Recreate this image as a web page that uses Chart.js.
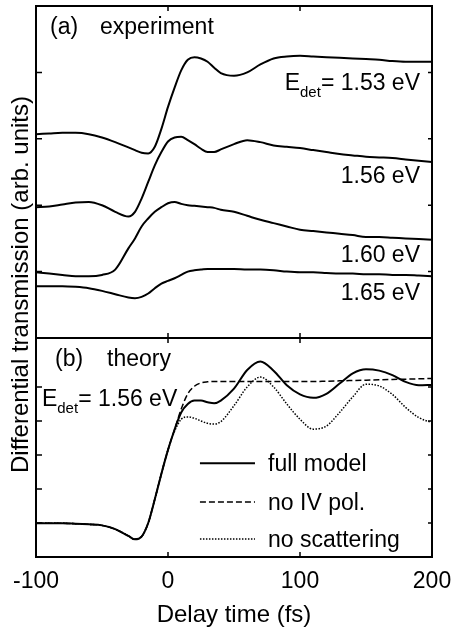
<!DOCTYPE html>
<html lang="en">
<head>
<meta charset="UTF-8">
<title>Differential transmission</title>
<script src="https://cdn.jsdelivr.net/npm/chart.js"></script>
<style>
  html, body { margin: 0; padding: 0; background: #fff; }
</style>
</head>
<body>
<canvas id="dtChart" width="453" height="630"></canvas>
<script>
// delay times (fs), shared by every curve
const delay = [-100, -90, -80, -70, -60, -50, -40, -30,
  -25, -20, -15, -10, -5, 0, 5, 10, 15, 20, 25, 30, 35, 40,
  50, 60, 70, 80, 90, 100, 110, 120, 130, 140, 150, 160, 170, 180, 190, 200];

// (a) experiment (arb. units, panel axis 0..5)
const exp153 = [3.07, 3.08, 3.09, 3.09, 3.07, 3.02, 2.95, 2.87,
  2.83, 2.79, 2.78, 2.88, 3.15, 3.48, 3.77, 4.03, 4.19, 4.23, 4.21, 4.16, 4.07, 3.99,
  3.95, 4.0, 4.12, 4.21, 4.24, 4.25, 4.24, 4.23, 4.22, 4.21, 4.2, 4.19, 4.17, 4.16, 4.16, 4.16];
const exp156 = [1.97, 1.98, 2.01, 2.04, 2.05, 2.0, 1.9, 1.83,
  1.9, 2.1, 2.35, 2.6, 2.8, 2.96, 3.02, 3.03, 2.98, 2.92, 2.85, 2.8, 2.8, 2.84,
  2.92, 2.98, 2.95, 2.9, 2.88, 2.86, 2.83, 2.8, 2.77, 2.75, 2.73, 2.72, 2.71, 2.69, 2.67, 2.65];
const exp160 = [0.99, 0.97, 0.95, 0.93, 0.93, 0.95, 1.03, 1.35,
  1.5, 1.68, 1.8, 1.9, 1.97, 2.03, 2.05, 2.02, 2.0, 1.99, 1.98, 1.97, 1.96, 1.93,
  1.9, 1.84, 1.78, 1.73, 1.68, 1.63, 1.61, 1.59, 1.57, 1.55, 1.52, 1.52, 1.51, 1.5, 1.49, 1.48];
const exp165 = [0.78, 0.78, 0.78, 0.77, 0.75, 0.71, 0.66, 0.61,
  0.6, 0.62, 0.67, 0.75, 0.82, 0.86, 0.9, 0.95, 1.0, 1.02, 1.03, 1.04, 1.04, 1.04,
  1.04, 1.03, 1.03, 1.02, 1.0, 0.99, 0.99, 0.98, 0.97, 0.97, 0.96, 0.96, 0.95, 0.95, 0.94, 0.93];

// (b) theory
const fullModel = [0.99, 0.99, 0.99, 0.98, 0.96, 0.93, 0.82, 0.62,
  0.52, 0.6, 1.0, 1.7, 2.45, 3.15, 3.75, 4.25, 4.5, 4.6, 4.6, 4.55, 4.52, 4.6,
  4.95, 5.5, 5.75, 5.48, 5.05, 4.78, 4.68, 4.8, 5.1, 5.4, 5.52, 5.48, 5.35, 5.15, 5.05, 5.06];
const noIVpol = [0.99, 0.99, 0.99, 0.98, 0.96, 0.93, 0.82, 0.62,
  0.52, 0.6, 1.0, 1.7, 2.45, 3.15, 3.75, 4.35, 4.8, 5.02, 5.12, 5.15, 5.16, 5.16,
  5.16, 5.16, 5.16, 5.16, 5.16, 5.16, 5.16, 5.17, 5.18, 5.19, 5.2, 5.21, 5.22, 5.23, 5.24, 5.25];
const noScattering = [0.99, 0.99, 0.99, 0.98, 0.96, 0.93, 0.82, 0.62,
  0.52, 0.6, 1.0, 1.7, 2.45, 3.15, 3.7, 4.05, 4.12, 4.08, 4.0, 3.93, 3.91, 3.98,
  4.45, 5.0, 5.29, 5.0, 4.5, 4.05, 3.76, 3.85, 4.25, 4.71, 5.08, 5.03, 4.78, 4.4, 4.1, 3.95];

const xTicks = [-100, 0, 100, 200];

const FONT = '"Liberation Sans", Arial, Helvetica, sans-serif';
Chart.defaults.font.family = FONT;
Chart.defaults.color = '#000';

function line(label, values, axis, dash, width) {
  return {
    label: label,
    yAxisID: axis,
    data: delay.map((t, i) => ({ x: t, y: values[i] })),
    borderColor: '#000',
    borderWidth: width,
    borderDash: dash,
    pointRadius: 0,
    fill: false,
    cubicInterpolationMode: 'monotone'
  };
}

// E with "det" subscript, then the rest; right-aligned when align == 'right'
function drawEdet(ctx, x, y, rest, align) {
  ctx.font = '23px ' + FONT;
  const wE = ctx.measureText('E').width;
  const wR = ctx.measureText(rest).width;
  ctx.font = '15px ' + FONT;
  const wS = ctx.measureText('det').width;
  let x0 = align === 'right' ? x - (wE + wS + wR) : x;
  ctx.textAlign = 'left';
  ctx.font = '23px ' + FONT;
  ctx.fillText('E', x0, y);
  ctx.font = '15px ' + FONT;
  ctx.fillText('det', x0 + wE, y + 7);
  ctx.font = '23px ' + FONT;
  ctx.fillText(rest, x0 + wE + wS, y);
}

const decorations = {
  id: 'decorations',
  afterDraw(chart) {
    const { ctx, chartArea: a, scales } = chart;
    const sx = scales.x, ya = scales.ya, yb = scales.yb;
    ctx.save();
    ctx.strokeStyle = '#000';
    ctx.fillStyle = '#000';

    // frames and inward ticks
    [ya, yb].forEach(s => {
      ctx.lineWidth = 2;
      ctx.strokeRect(a.left, s.top, a.right - a.left, s.bottom - s.top);
      ctx.lineWidth = 1.5;
      ctx.beginPath();
      s.ticks.forEach(t => {
        if (!Number.isInteger(t.value) || t.value <= s.min || t.value >= s.max) return;
        const py = s.getPixelForValue(t.value);
        ctx.moveTo(a.left, py); ctx.lineTo(a.left + 6, py);
        ctx.moveTo(a.right, py); ctx.lineTo(a.right - 4, py);
      });
      sx.ticks.forEach(t => {
        if (t.value <= sx.min || t.value >= sx.max) return;
        const px = sx.getPixelForValue(t.value);
        ctx.moveTo(px, s.top); ctx.lineTo(px, s.top + 5);
        ctx.moveTo(px, s.bottom); ctx.lineTo(px, s.bottom - 5);
      });
      ctx.stroke();
    });

    const X = v => sx.getPixelForValue(v);
    ctx.textBaseline = 'alphabetic';

    // panel (a)
    ctx.font = '23px ' + FONT;
    ctx.textAlign = 'left';
    ctx.fillText('(a)', X(-89.4), ya.getPixelForValue(4.58));
    ctx.fillText('experiment', X(-51.5), ya.getPixelForValue(4.58));
    drawEdet(ctx, X(190.9), ya.getPixelForValue(3.73), '= 1.53 eV', 'right');
    ctx.font = '23px ' + FONT;
    ctx.textAlign = 'right';
    ctx.fillText('1.56 eV', X(190.9), ya.getPixelForValue(2.33));
    ctx.fillText('1.60 eV', X(190.9), ya.getPixelForValue(1.14));
    ctx.fillText('1.65 eV', X(190.9), ya.getPixelForValue(0.57));

    // panel (b)
    ctx.textAlign = 'left';
    ctx.fillText('(b)', X(-85.6), yb.getPixelForValue(5.62));
    ctx.fillText('theory', X(-46.2), yb.getPixelForValue(5.62));
    drawEdet(ctx, X(-95.5), yb.getPixelForValue(4.44), '= 1.56 eV', 'left');

    // legend of the theory curves
    const legendY = [2.76, 1.62, 0.53];
    chart.data.datasets.filter(d => d.yAxisID === 'yb').forEach((d, i) => {
      const py = yb.getPixelForValue(legendY[i]);
      ctx.lineWidth = d.borderWidth;
      ctx.setLineDash(d.borderDash);
      ctx.beginPath();
      ctx.moveTo(X(24.2), py);
      ctx.lineTo(X(65.9), py);
      ctx.stroke();
      ctx.setLineDash([]);
      ctx.font = '23px ' + FONT;
      ctx.fillText(d.label, X(75.8), py + 8);
    });

    // shared y title
    ctx.translate(21, (ya.top + 90 + yb.bottom - 84) / 2);
    ctx.rotate(-Math.PI / 2);
    ctx.textAlign = 'center';
    ctx.textBaseline = 'middle';
    ctx.font = '24px ' + FONT;
    ctx.fillText('Differential transmission (arb. units)', 0, 0);
    ctx.restore();
  }
};

new Chart(document.getElementById('dtChart'), {
  type: 'line',
  data: {
    datasets: [
      line('1.53 eV', exp153, 'ya', [], 2),
      line('1.56 eV', exp156, 'ya', [], 2),
      line('1.60 eV', exp160, 'ya', [], 2),
      line('1.65 eV', exp165, 'ya', [], 2),
      line('full model', fullModel, 'yb', [], 2),
      line('no IV pol.', noIVpol, 'yb', [6, 3], 1.5),
      line('no scattering', noScattering, 'yb', [1.5, 1.5], 1.5)
    ]
  },
  options: {
    responsive: false,
    animation: false,
    devicePixelRatio: 1,
    layout: { padding: { top: 6, right: 21, left: 0, bottom: 0 } },
    plugins: { legend: { display: false }, tooltip: { enabled: false } },
    scales: {
      x: {
        type: 'linear',
        min: -100, max: 200,
        afterBuildTicks: s => { s.ticks = xTicks.map(v => ({ value: v })); },
        grid: { display: false, drawTicks: false },
        border: { display: false },
        ticks: { font: { size: 23 }, padding: 11, maxRotation: 0 },
        title: { display: true, text: 'Delay time (fs)', font: { size: 24 }, padding: 0 },
        afterFit: s => { s.height = 73; s.paddingLeft = 0; s.paddingRight = 0; }
      },
      yb: {
        type: 'linear', position: 'left', stack: 'panels', stackWeight: 219,
        min: 0, max: 6.44,
        ticks: { display: false, stepSize: 1 },
        grid: { display: false, drawTicks: false },
        border: { display: false },
        afterFit: s => { s.width = 36; }
      },
      ya: {
        type: 'linear', position: 'left', stack: 'panels', stackWeight: 332,
        min: 0, max: 5,
        ticks: { display: false, stepSize: 1 },
        grid: { display: false, drawTicks: false },
        border: { display: false },
        afterFit: s => { s.width = 36; }
      }
    }
  },
  plugins: [decorations]
});
</script>
</body>
</html>
